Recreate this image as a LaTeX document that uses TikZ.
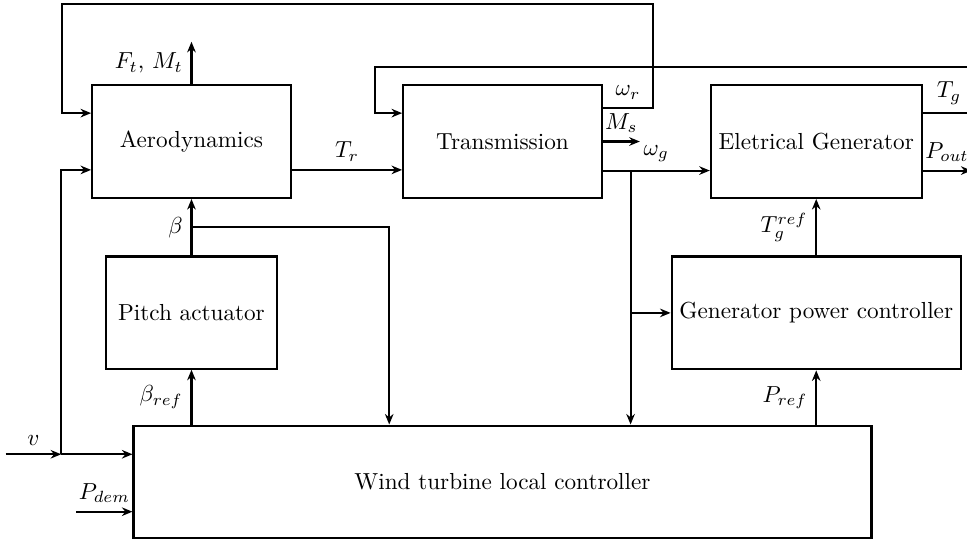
\documentclass[tikz,border=0pt]{standalone}
\usepackage{amsmath,amssymb}
\usepackage{tikz}
\usetikzlibrary{arrows.meta,positioning,calc}
\tikzset{
  block/.style={rectangle, draw=black, line width=0.9pt, minimum width=3.01cm, minimum height=1.71cm, align=center},
  arrow/.style={-{Stealth[length=1.6mm, width=1.3mm]}, line width=0.9pt},
}

\begin{document}
\begin{tikzpicture}[node distance=0.855cm]
\useasboundingbox (-2.901,2.144) rectangle (11.749,-6.037);
\clip (-2.901,2.144) rectangle (11.749,-6.037);

\node[block] (aero) at (0,0) {Aerodynamics};
\node[block, right=1.67cm of aero] (trans) {Transmission};
\node[block, minimum width=0cm, right=1.62cm of trans] (gen) {Eletrical Generator};
\node[block, minimum width=2.58cm, minimum height=1.70cm, below=of aero] (pitch) {Pitch actuator};
\node[block, minimum width=0cm, below=of gen] (gpc) {Generator power controller};
\coordinate (cc) at (pitch.south -| trans);
\node[block, minimum width=11.18cm, below=0.83cm of cc] (ctrl) {Wind turbine local controller};

% free ends
\coordinate (ft) at ([yshift=0.64cm]aero.north);
\coordinate (ms) at ([xshift=0.56cm]trans.east);
\coordinate (pout) at ([xshift=0.74cm, yshift=-0.44cm]gen.east);
\coordinate (vin) at ([xshift=-1.92cm, yshift=0.42cm]ctrl.west);
\coordinate (vj) at ([xshift=-1.08cm, yshift=0.42cm]ctrl.west);
\coordinate (pd) at ([xshift=-0.85cm, yshift=-0.45cm]ctrl.west);
\coordinate (bb) at ($(pitch.north)!0.5!(aero.south)$);
\coordinate (br) at ([xshift=0.42cm, yshift=-0.44cm]trans.east);

% aerodynamics
\draw[arrow] (aero) -- node[left] {$F_t$, $M_t$} (ft);
\draw[arrow] ([yshift=-0.43cm]aero.east) -- node[above] {$T_r$} ([yshift=-0.43cm]trans.west);
\draw[arrow] ([yshift=0.51cm]trans.east) -- ++(0.76,0) node[midway, above] {$\omega_r$}
  |- ([xshift=-0.44cm, yshift=1.21cm]aero.north west) |- ([yshift=0.43cm]aero.west);

% transmission and generator
\draw[arrow] (trans.east) -- node[above] {$M_s$} (ms);
\draw[arrow] ([yshift=-0.44cm]trans.east) -- node[above] {$\omega_g$} ([yshift=-0.44cm]gen.west);
\draw[arrow] ([yshift=0.43cm]gen.east) -- ++(0.8,0) node[midway, above] {$T_g$}
  |- ([xshift=-0.41cm, yshift=0.26cm]trans.north west) |- ([yshift=0.43cm]trans.west);
\draw[arrow] ([yshift=-0.44cm]gen.east) -- node[above] {$P_{out}$} (pout);
\draw[arrow] (br) -- (br |- ctrl.north);
\draw[arrow] (br |- gpc.west) -- (gpc.west);
\draw[arrow] (gpc) -- node[left] {$T_g^{ref}$} (gen);
\draw[arrow] (ctrl.north -| gpc) -- node[left] {$P_{ref}$} (gpc);

% pitch
\draw[arrow] (pitch) -- node[left] {$\beta$} (aero);
\draw[arrow] (bb) -| ([xshift=3.89cm]ctrl.north west);
\draw[arrow] (ctrl.north -| pitch) -- node[left] {$\beta_{ref}$} (pitch);

% inputs
\draw[arrow] (vin) -- node[above] {$v$} (vj);
\draw[arrow] (vj) -- ([yshift=0.42cm]ctrl.west);
\draw[arrow] (vj) |- ([yshift=-0.43cm]aero.west);
\draw[arrow] (pd) -- node[above] {$P_{dem}$} ([yshift=-0.45cm]ctrl.west);
\end{tikzpicture}
\end{document}
